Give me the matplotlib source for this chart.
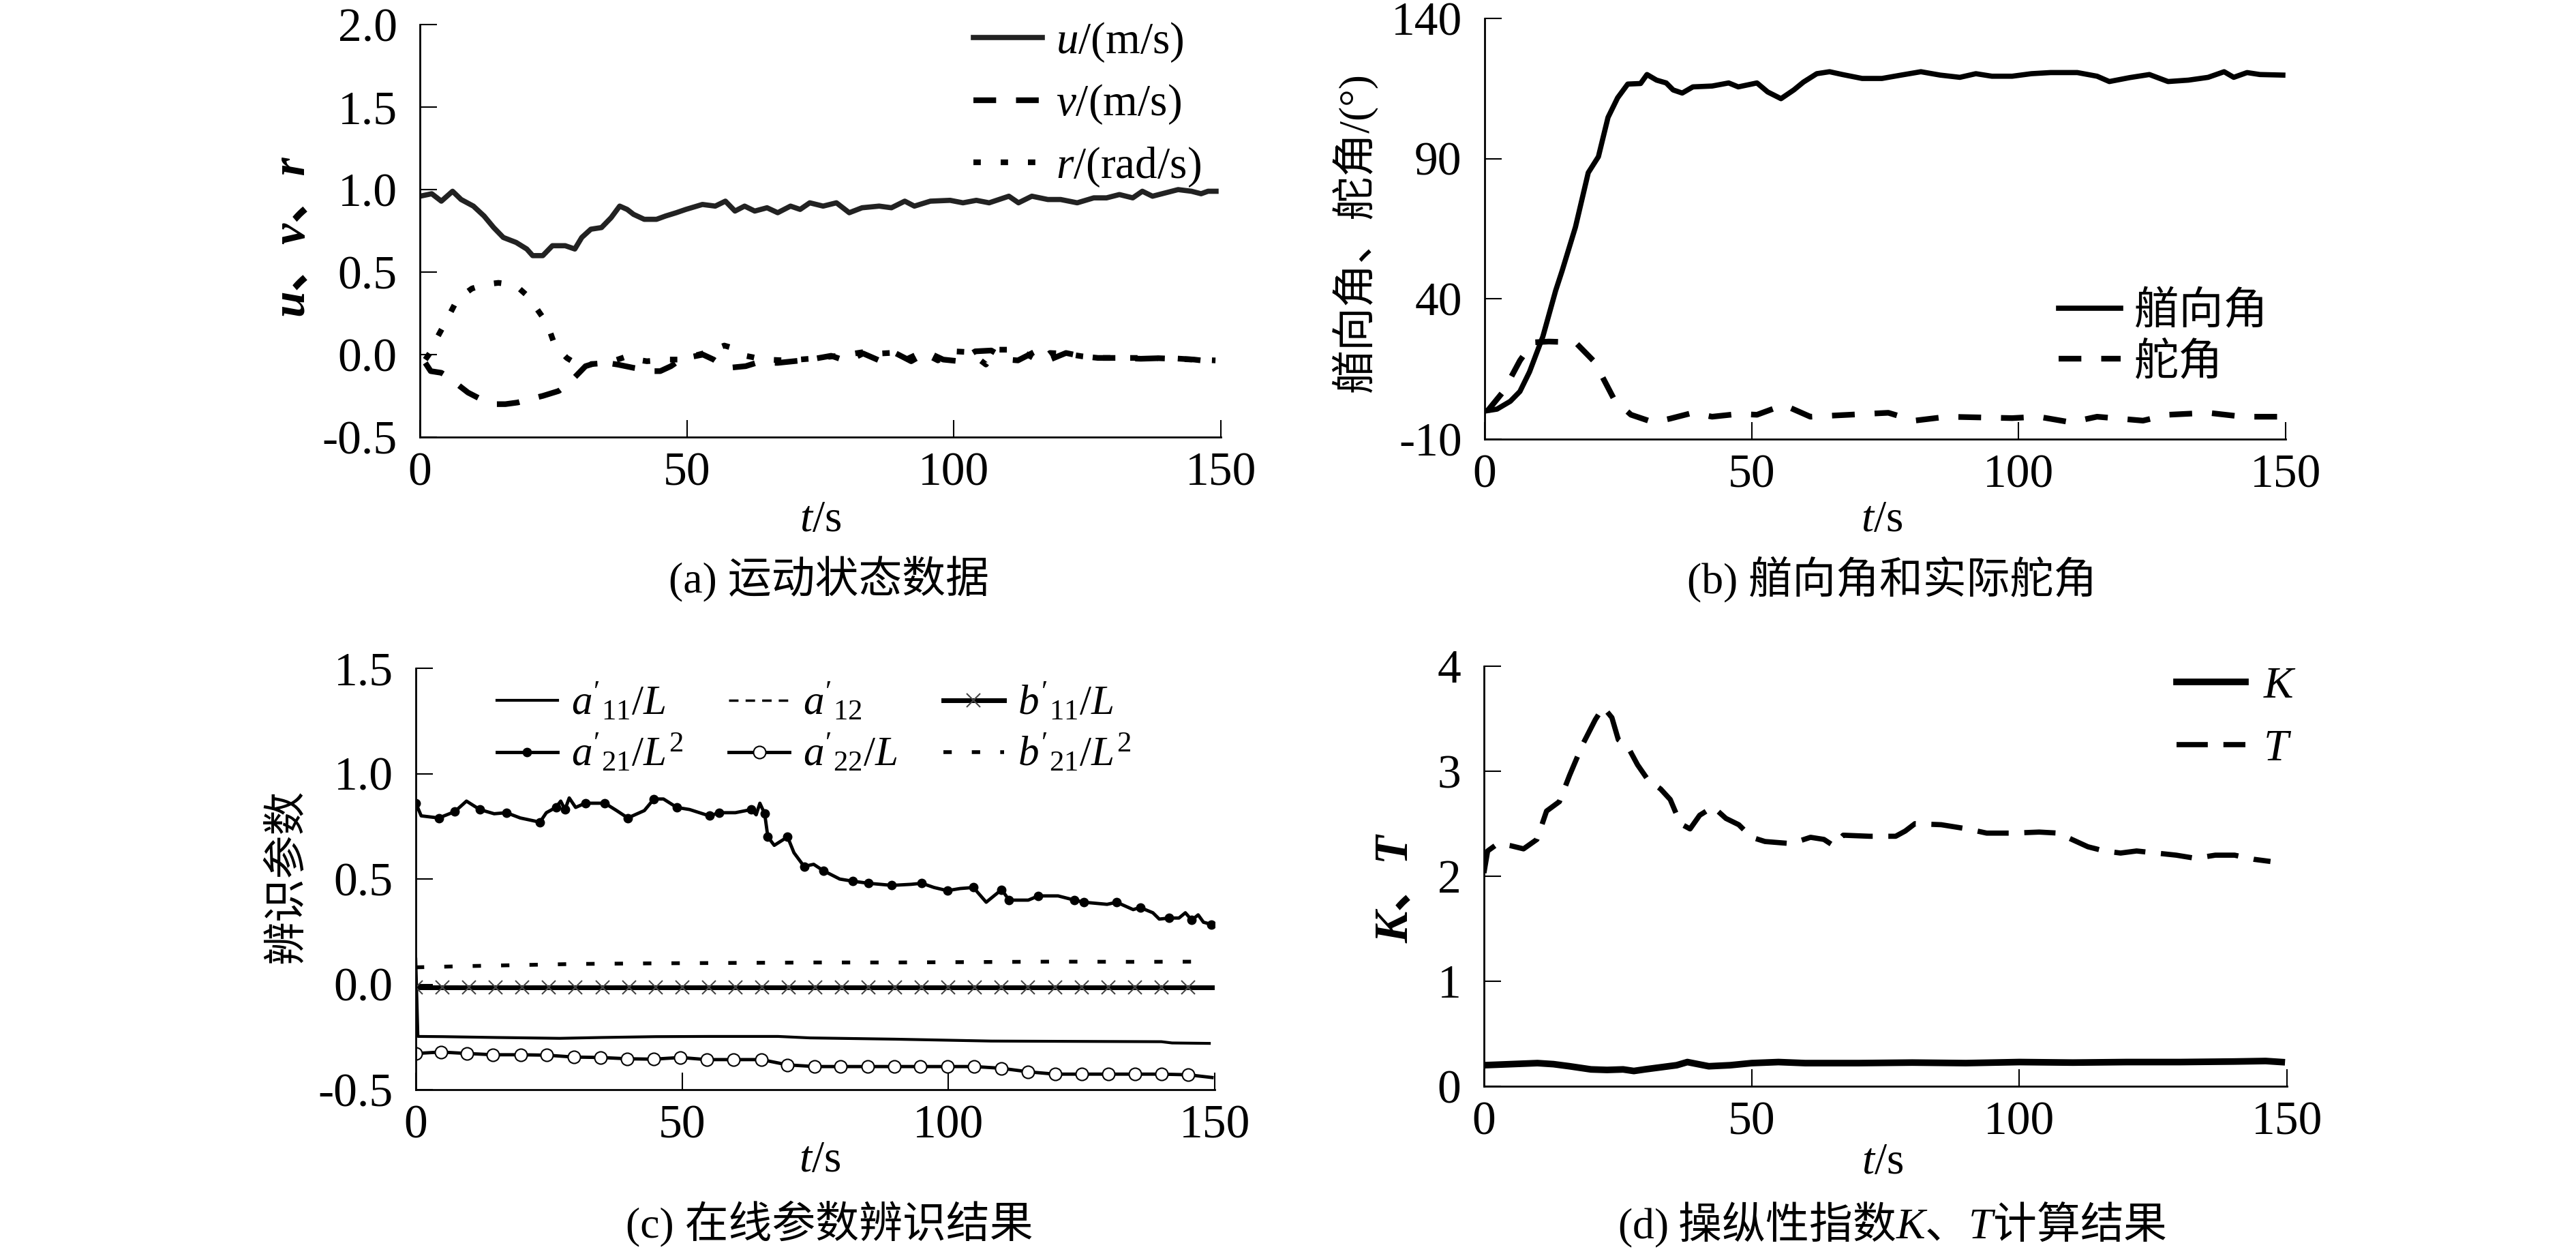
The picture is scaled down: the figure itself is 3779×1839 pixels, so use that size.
import matplotlib
matplotlib.use("Agg")
import matplotlib.pyplot as plt
from matplotlib.ticker import FormatStrFormatter

plt.rcParams['font.family'] = ['Liberation Serif', 'Noto Sans CJK SC']
plt.rcParams['mathtext.fontset'] = 'custom'
plt.rcParams['mathtext.rm'] = 'Liberation Serif'
plt.rcParams['mathtext.it'] = 'Liberation Serif:italic'
plt.rcParams['mathtext.bf'] = 'Liberation Serif:bold'
plt.rcParams['axes.unicode_minus'] = False

# (a) motion state data, (t, value) pairs
u_data = [(0, 0.96), (2.2, 0.975), (4, 0.93), (6.1, 0.99), (7.7, 0.94), (10, 0.90), (12, 0.84),
          (13.8, 0.77), (15.6, 0.71), (18, 0.68), (20, 0.64), (21.1, 0.60), (23, 0.60), (24.8, 0.66),
          (27.2, 0.66), (29, 0.64), (30.3, 0.71), (32, 0.76), (34, 0.77), (35.8, 0.83), (37.4, 0.90),
          (38.8, 0.88), (40, 0.85), (42, 0.82), (44.3, 0.82), (46, 0.84), (48, 0.86), (49.8, 0.88),
          (52.9, 0.91), (55.3, 0.90), (57.2, 0.93), (59, 0.87), (60.8, 0.90), (62.7, 0.87), (65, 0.89),
          (67, 0.86), (69.4, 0.90), (71.2, 0.88), (73, 0.92), (75.5, 0.90), (78, 0.92), (80.4, 0.86),
          (82.8, 0.89), (86, 0.90), (88.3, 0.89), (90.8, 0.93), (92.6, 0.90), (95.6, 0.93), (99.3, 0.935),
          (101.7, 0.92), (104.2, 0.935), (106.6, 0.92), (110.3, 0.96), (112.1, 0.92), (114.6, 0.96),
          (117.6, 0.94), (120, 0.94), (123.1, 0.92), (126.2, 0.95), (128.6, 0.95), (131, 0.97),
          (133.5, 0.95), (135.3, 0.99), (137.2, 0.96), (139.6, 0.98), (142, 1.0), (144.5, 0.99),
          (146.3, 0.975), (147.6, 0.99), (149.1, 0.99)]
v_data = [(1, -0.05), (2, -0.10), (4, -0.11), (5.5, -0.14), (7.4, -0.19), (9, -0.23), (11.4, -0.27),
          (14, -0.30), (16, -0.30), (18.3, -0.29), (20.5, -0.27), (23, -0.25), (26, -0.22), (28, -0.17),
          (29.5, -0.12), (31, -0.07), (33, -0.05), (35, -0.05), (37, -0.06), (40, -0.08), (43.7, -0.10),
          (45, -0.10), (47, -0.07), (48.8, -0.03), (50.6, -0.015), (53, 0.0), (55, -0.03), (56.3, -0.06),
          (57.8, -0.08), (61, -0.07), (63, -0.05), (67, -0.05), (70, -0.04), (73, -0.03), (77, -0.007),
          (80, -0.04), (83, 0.007), (86, -0.035), (89, 0.01), (92, -0.04), (95, 0.015), (98, -0.03),
          (101, -0.04), (104, 0.02), (107, 0.025), (110, -0.03), (112, -0.035), (115, 0.015),
          (118, -0.03), (121, 0.01), (124, -0.01), (127, -0.02), (131, -0.02), (135, -0.025),
          (140, -0.02), (145, -0.03), (149, -0.045)]
r_data = [(1, -0.03), (2.5, 0.04), (3, 0.09), (5, 0.21), (6.6, 0.31), (8, 0.36), (9.7, 0.40),
          (12, 0.425), (14.7, 0.435), (17, 0.425), (18.6, 0.40), (20, 0.36), (21.4, 0.30), (22.7, 0.24),
          (23.8, 0.19), (25, 0.08), (26, 0.03), (27.5, -0.02), (29, -0.05), (31, -0.06), (33, -0.055),
          (35, -0.05), (37, -0.03), (38.8, -0.01), (40.5, -0.03), (42.5, -0.04), (44.5, -0.035),
          (46.5, -0.03), (49, -0.03), (51, -0.01), (53, 0.007), (55, 0.03), (57, 0.055), (58.6, 0.04),
          (60, 0.015), (61, -0.007), (63, -0.02), (65, -0.03), (68.4, -0.035), (71, -0.03),
          (73, -0.025), (76, -0.015), (79, -0.005), (82.8, 0.014), (85, 0.005), (88, 0.01),
          (91, -0.03), (94, 0.015), (97, -0.035), (100, 0.02), (103, 0.015), (106, -0.06), (108, 0.03),
          (110, 0.03), (113, 0.014), (116, -0.04), (118, 0.01), (121, 0.005), (124, -0.01),
          (127, -0.02), (130, -0.02), (133, -0.02), (137, -0.02), (141, -0.025), (145, -0.03),
          (149, -0.035)]

# (b) heading angle and rudder angle (deg)
heading_data = [(0, 0.0), (2.3, 0.7), (4.8, 3.5), (6.6, 7), (8.4, 14), (10.9, 26.6), (13.3, 43),
                (14.5, 50), (17, 65.6), (19.4, 85), (21.3, 90.7), (23.1, 104.7), (24.9, 111.7),
                (26.8, 116.6), (29.2, 116.8), (30.4, 120), (32.2, 118), (34, 117), (35.3, 114.5),
                (37, 113.4), (39, 115.6), (42.6, 115.9), (45.7, 117), (47.5, 115.6), (51, 117),
                (53, 113.8), (55.5, 111.4), (57.9, 114.5), (59.7, 117.3), (62.2, 120.3), (64.6, 121),
                (67, 120), (70.7, 118.6), (74.4, 118.6), (78, 119.8), (81.7, 121), (85.3, 119.8),
                (89, 119), (92, 120.3), (95, 119.4), (98.8, 119.4), (102.4, 120.3), (106, 120.7),
                (111, 120.7), (114.7, 119.4), (117, 117.5), (120.8, 118.9), (124.5, 120), (128, 117.5),
                (131.8, 118), (135.5, 119), (138.5, 121), (140.3, 119), (142.8, 120.7), (145.2, 120),
                (149.5, 119.8)]
rudder_data = [(0.5, 0.0), (3.5, 7), (6.6, 18), (9, 24.5), (12, 24.8), (17, 24.5), (20.6, 17.5),
               (24.3, 4), (27.4, -1.3), (31.6, -4), (34.7, -2.7), (39, -0.6), (42.6, -2), (47.5, -1),
               (51, -1.3), (56, 2.2), (61, -2), (68.3, -1.3), (75.6, -0.6), (80.5, -3.4), (86.6, -2),
               (98.8, -2.5), (103.7, -2), (109.8, -4), (114.7, -2), (123.3, -3.4), (128, -1.3),
               (135.5, -0.6), (142, -2), (148.9, -2)]

# (c) online identified parameters
a11_data = [(0, 0.12), (0.4, -0.247), (5, -0.248), (15, -0.252), (27, -0.256), (35, -0.252),
            (45, -0.248), (55, -0.247), (68, -0.247), (74, -0.254), (90, -0.26), (108, -0.269),
            (140, -0.272), (142, -0.278), (149, -0.28)]
a12_data = [(0, -0.01), (75, -0.012), (149, -0.012)]
b11_t = [0, 5, 10, 15, 20, 25, 30, 35, 40, 45, 50, 55, 60, 65, 70, 75, 80, 85, 90, 95, 100, 105,
         110, 115, 120, 125, 130, 135, 140, 145, 149.5]
b11_v = [-0.015, -0.015, -0.015, -0.015, -0.015, -0.015, -0.015, -0.015, -0.015, -0.015, -0.015,
         -0.015, -0.015, -0.015, -0.015, -0.015, -0.015, -0.015, -0.015, -0.015, -0.015, -0.015,
         -0.015, -0.015, -0.015, -0.015, -0.015, -0.015, -0.015, -0.015, -0.015]
a21_data = [(0, 0.86), (1, 0.80), (4.3, 0.79), (7.3, 0.82), (9.5, 0.87), (12, 0.83), (14.7, 0.81),
            (17, 0.815), (19.6, 0.79), (23.3, 0.77), (24.5, 0.815), (26.3, 0.84), (27.2, 0.87),
            (28, 0.83), (28.8, 0.885), (30, 0.84), (31.8, 0.86), (35.5, 0.86), (37.7, 0.825),
            (39.8, 0.79), (42.9, 0.825), (44.7, 0.88), (46.5, 0.88), (49, 0.84), (51.4, 0.83),
            (55.1, 0.80), (57, 0.815), (60, 0.815), (63, 0.83), (63.9, 0.805), (64.6, 0.86),
            (65.5, 0.81), (66.1, 0.70), (67.3, 0.66), (69.8, 0.70), (71, 0.625), (72.9, 0.56),
            (74.7, 0.57), (76.5, 0.54), (79.6, 0.50), (82, 0.49), (85, 0.48), (89.4, 0.47),
            (93, 0.475), (95, 0.48), (97.3, 0.46), (99.8, 0.445), (102.2, 0.455), (104.7, 0.46),
            (107.1, 0.39), (110, 0.45), (111.4, 0.40), (115, 0.40), (116.9, 0.42), (120.6, 0.42),
            (123.7, 0.40), (125.5, 0.39), (129.8, 0.38), (131.6, 0.39), (134.7, 0.355), (136, 0.365),
            (138.4, 0.34), (139.6, 0.31), (141.5, 0.315), (143.3, 0.315), (144.5, 0.34), (145.7, 0.305),
            (146.9, 0.33), (147.9, 0.295), (149.4, 0.285)]
a22_t = [0, 4.7, 9.6, 14.5, 19.7, 24.6, 29.7, 34.7, 39.7, 44.6, 49.7, 54.6, 59.7, 64.9, 69.8, 74.9,
         79.8, 84.9, 89.8, 94.7, 99.8, 104.8, 109.9, 115, 120, 125.1, 130, 135, 140, 145, 149.5]
a22_v = [-0.328, -0.321, -0.328, -0.334, -0.334, -0.336, -0.345, -0.347, -0.353, -0.355, -0.347,
         -0.357, -0.357, -0.357, -0.382, -0.39, -0.39, -0.39, -0.39, -0.39, -0.39, -0.39, -0.398,
         -0.415, -0.426, -0.426, -0.426, -0.426, -0.426, -0.429, -0.442]
b21_data = [(0, 0.081), (5, 0.084), (10, 0.087), (20, 0.092), (30, 0.097), (45, 0.1), (60, 0.102),
            (75, 0.104), (90, 0.104), (105, 0.106), (120, 0.108), (135, 0.107), (149, 0.108)]

# (d) manoeuvrability indices K, T
K_data = [(0, 0.20), (5, 0.21), (10, 0.22), (13, 0.21), (16, 0.19), (20, 0.16), (23, 0.155),
          (26, 0.16), (28, 0.145), (30, 0.16), (33, 0.18), (36, 0.20), (38, 0.23), (40, 0.21),
          (42, 0.19), (46, 0.20), (50, 0.22), (55, 0.23), (60, 0.22), (70, 0.22), (80, 0.225),
          (90, 0.22), (100, 0.23), (110, 0.225), (120, 0.23), (130, 0.23), (140, 0.235), (146, 0.24),
          (149, 0.23)]
T_data = [(0, 2.03), (0.7, 2.24), (2.6, 2.31), (5, 2.29), (7.4, 2.26), (9.9, 2.35), (11.7, 2.62),
          (14.1, 2.71), (16, 2.96), (18.4, 3.25), (20.8, 3.49), (22.3, 3.61), (23.9, 3.51),
          (25.1, 3.30), (26.9, 3.23), (28.7, 3.06), (30.6, 2.92), (33, 2.83), (34.8, 2.73),
          (36.7, 2.50), (38.5, 2.45), (40.3, 2.58), (42.8, 2.66), (45.2, 2.55), (47.6, 2.49),
          (50, 2.37), (52.5, 2.33), (57.4, 2.31), (61, 2.37), (63.5, 2.35), (65.3, 2.29), (67.1, 2.39),
          (72, 2.38), (76.9, 2.38), (78.7, 2.43), (80.5, 2.50), (85.4, 2.49), (90.3, 2.45),
          (93.9, 2.41), (98.8, 2.41), (103.7, 2.42), (107.3, 2.41), (109.8, 2.35), (112.8, 2.28),
          (115.9, 2.24), (118.9, 2.22), (121.9, 2.24), (125.6, 2.22), (129.3, 2.20), (132.9, 2.17),
          (136.6, 2.20), (140.2, 2.20), (143.9, 2.16), (146.9, 2.14)]

xticks = [0, 50, 100, 150]
yticks_a = [-0.5, 0.0, 0.5, 1.0, 1.5, 2.0]
yticks_b = [-10, 40, 90, 140]
yticks_c = [-0.5, 0.0, 0.5, 1.0, 1.5]
yticks_d = [0, 1, 2, 3, 4]


def split(pairs):
    return [p[0] for p in pairs], [p[1] for p in pairs]


def styleAxes(ax, yticks, yfmt):
    for side in ["top", "right"]:
        ax.spines[side].set_visible(False)
    for side in ["left", "bottom"]:
        ax.spines[side].set_linewidth(2)
    ax.set_xlim(0, 150)
    ax.set_ylim(yticks[0], yticks[-1])
    ax.set_xticks(xticks)
    ax.set_yticks(yticks)
    ax.yaxis.set_major_formatter(FormatStrFormatter(yfmt))
    ax.tick_params(direction="in", length=18, width=1.5, labelsize=50)
    ax.tick_params(axis="x", pad=16)
    ax.tick_params(axis="y", pad=24)


fig = plt.figure(figsize=(37.8, 18.39), dpi=100)
axA = fig.add_axes([0.163, 0.6514, 0.3108, 0.329])
axB = fig.add_axes([0.5762, 0.6498, 0.3108, 0.3355])
axC = fig.add_axes([0.1614, 0.131, 0.310, 0.336])
axD = fig.add_axes([0.5759, 0.1338, 0.3117, 0.335])

# (a)
t, y = split(u_data)
axA.plot(t, y, color="#222222", lw=5.5, label=r"$u$/(m/s)")
t, y = split(v_data)
axA.plot(t, y, color="black", lw=6, dashes=(4, 3.5), label=r"$v$/(m/s)")
t, y = split(r_data)
axA.plot(t, y, color="black", lw=6, dashes=(1.3, 3.5), label=r"$r$/(rad/s)")
styleAxes(axA, yticks_a, "%.1f")
axA.legend(loc="upper left", bbox_to_anchor=(0.691, 1.01), frameon=False, fontsize=47,
           handlelength=1.55, handletextpad=0.3, labelspacing=0.42, borderpad=0, borderaxespad=0)
axA.text(-0.161, 0.489, "u、v、r", style="italic", weight="bold", rotation=90, fontsize=50,
         ha="center", va="center", transform=axA.transAxes)
axA.text(0.5, -0.2017, r"$t$/s", fontsize=47, ha="center", va="center", transform=axA.transAxes)
axA.text(0.511, -0.345, "(a) 运动状态数据", fontsize=46, ha="center", va="center",
         transform=axA.transAxes)

# (b)
t, y = split(heading_data)
axB.plot(t, y, color="black", lw=5.5, label="艏向角")
t, y = split(rudder_data)
axB.plot(t, y, color="black", lw=6, dashes=(4, 3.5), label="舵角")
styleAxes(axB, yticks_b, "%d")
axB.legend(loc="upper left", bbox_to_anchor=(0.7166, 0.35), frameon=False, fontsize=47,
           handlelength=1.4, handletextpad=0.3, labelspacing=0.2, borderpad=0, borderaxespad=0)
axB.text(-0.163, 0.491, "艏向角、舵角/(°)", rotation=90, fontsize=46,
         ha="center", va="center", transform=axB.transAxes)
axB.text(0.496, -0.193, r"$t$/s", fontsize=47, ha="center", va="center", transform=axB.transAxes)
axB.text(0.509, -0.334, "(b) 艏向角和实际舵角", fontsize=46, ha="center", va="center",
         transform=axB.transAxes)

# (c)
t, y = split(a11_data)
lA11, = axC.plot(t, y, color="black", lw=3, label=r"$a'_{11}/L$")
t, y = split(a12_data)
lA12, = axC.plot(t, y, color="black", lw=2.5, dashes=(4, 3), label=r"$a'_{12}$")
lB11, = axC.plot(b11_t, b11_v, color="black", lw=5, marker="x", markersize=14,
                 markeredgewidth=1.5, markeredgecolor="#444444", markevery=slice(0, -1),
                 label=r"$b'_{11}/L$")
t, y = split(a21_data)
lA21, = axC.plot(t, y, color="black", lw=3.5, marker="o", markersize=9, markevery=0.0295,
                 label=r"$a'_{21}/L^2$")
lA22, = axC.plot(a22_t, a22_v, color="black", lw=3.5, marker="o", markersize=13,
                 markerfacecolor="white", markeredgewidth=1.5, markevery=slice(0, -1),
                 label=r"$a'_{22}/L$")
t, y = split(b21_data)
lB21, = axC.plot(t, y, color="black", lw=4, dashes=(2.2, 5.3), label=r"$b'_{21}/L^2$")
styleAxes(axC, yticks_c, "%.1f")
# column-major order so rows read a11, a12, b11 / a21, a22, b21
handles = [lA11, lA21, lA12, lA22, lB11, lB21]
axC.legend(handles, [h.get_label() for h in handles], ncol=3, loc="upper left",
           bbox_to_anchor=(0.1015, 0.965), frameon=False, fontsize=44, handlelength=1.45,
           handletextpad=0.33, columnspacing=1.1, labelspacing=0.25, borderpad=0, borderaxespad=0)
axC.text(-0.16, 0.506, "辨识参数", rotation=90, fontsize=46,
         ha="center", va="center", transform=axC.transAxes)
axC.text(0.506, -0.169, r"$t$/s", fontsize=47, ha="center", va="center", transform=axC.transAxes)
axC.text(0.518, -0.318, "(c) 在线参数辨识结果", fontsize=46, ha="center", va="center",
         transform=axC.transAxes)

# (d)
t, y = split(K_data)
axD.plot(t, y, color="black", lw=7, label=r"$K$")
t, y = split(T_data)
axD.plot(t, y, color="black", lw=5.5, dashes=(6, 3), label=r"$T$")
styleAxes(axD, yticks_d, "%d")
axD.legend(loc="upper left", bbox_to_anchor=(0.862, 1.0), frameon=False, fontsize=47,
           handlelength=1.55, handletextpad=0.4, labelspacing=0.5, borderpad=0, borderaxespad=0)
axD.text(-0.11, 0.469, "K、T", style="italic", weight="bold", rotation=90, fontsize=50,
         ha="center", va="center", transform=axD.transAxes)
axD.text(0.496, -0.182, r"$t$/s", fontsize=47, ha="center", va="center", transform=axD.transAxes)
axD.text(0.508, -0.33, r"$\mathrm{(d)}$ 操纵性指数$K$、$T$计算结果", fontsize=46,
         family="Noto Sans CJK SC", ha="center", va="center", transform=axD.transAxes)

fig.savefig("out.png", dpi=100)
